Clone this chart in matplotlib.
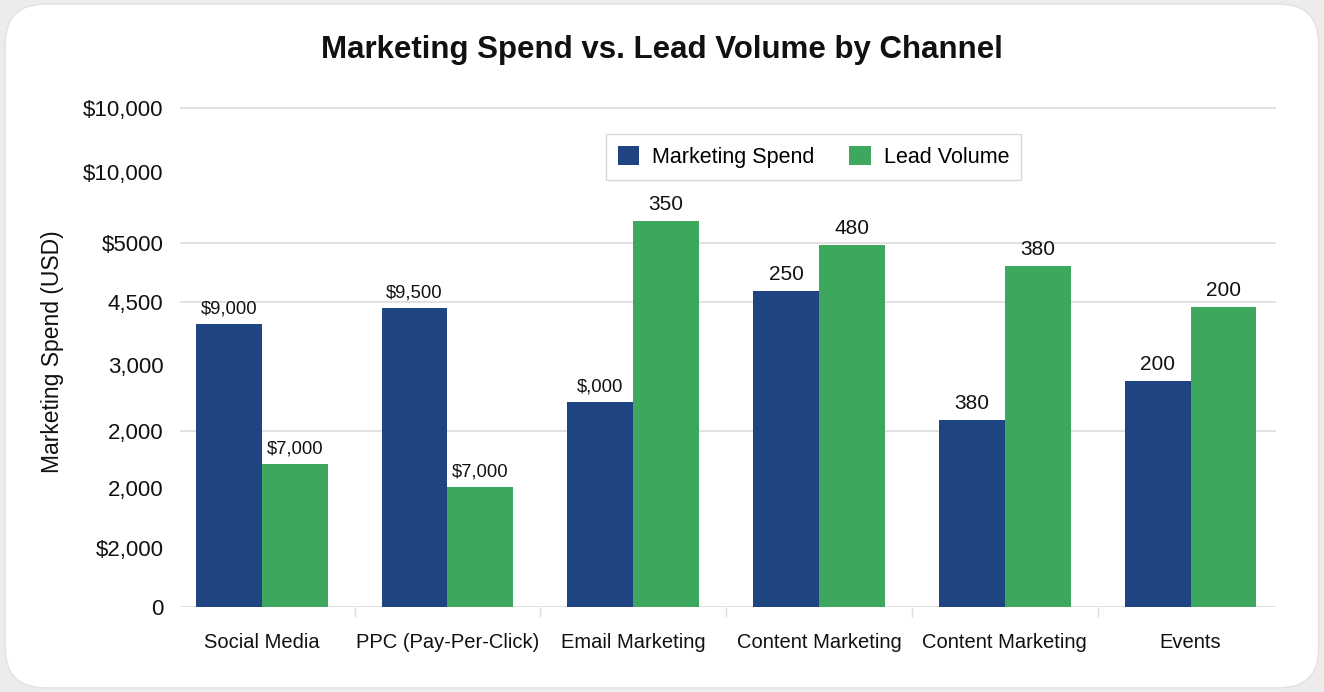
import matplotlib
matplotlib.use("Agg")
import matplotlib.pyplot as plt
from matplotlib.patches import FancyBboxPatch, Patch
import numpy as np

# ---- data (values read on the chart's own vertical scale) ----
categories = ["Social Media", "PPC (Pay-Per-Click)", "Email Marketing",
              "Content Marketing", "Content Marketing", "Events"]
spend = [283, 299, 205, 316, 187, 226]
leads = [143, 120, 386, 362, 341, 300]
spend_labels = ["$9,000", "$9,500", "$,000", "250", "380", "200"]
lead_labels = ["$7,000", "$7,000", "350", "480", "380", "200"]
ytick_values = [0, 59, 119, 176, 242, 305, 364, 435, 499]
ytick_labels = ["0", "$2,000", "2,000", "2,000", "3,000", "4,500", "$5000", "$10,000", "$10,000"]
gridline_values = [0, 176, 305, 364, 499]

BLUE = "#1f4482"
GREEN = "#3ca75d"
plt.rcParams["font.family"] = ["Liberation Sans", "DejaVu Sans"]

fig = plt.figure(figsize=(13.24, 6.92), dpi=100)
fig.patch.set_facecolor("#ececec")
card = FancyBboxPatch((0.004, 0.006), 0.992, 0.988,
                      boxstyle="round,pad=0,rounding_size=0.03",
                      transform=fig.transFigure, facecolor="white",
                      edgecolor="#e2e2e2", linewidth=1, zorder=-10,
                      mutation_aspect=1324 / 692)
fig.patches.append(card)

ax = fig.add_axes([180 / 1324, 1 - 607 / 692, (1276 - 180) / 1324, 510 / 692])
ax.set_facecolor("none")
ax.set_zorder(5)

x = np.arange(len(categories))
w = 0.355
b1 = ax.bar(x - w / 2, spend, w, color=BLUE, label="Marketing Spend", zorder=3)
b2 = ax.bar(x + w / 2, leads, w, color=GREEN, label="Lead Volume", zorder=3)

for rect, lab in zip(b1, spend_labels):
    fs = 13.3 if lab.startswith("$") else 15
    ax.annotate(lab, (rect.get_x() + rect.get_width() / 2, rect.get_height()),
                xytext=(0, 5), textcoords="offset points", ha="center", va="bottom",
                fontsize=fs, color="#111111")
for rect, lab in zip(b2, lead_labels):
    fs = 13.3 if lab.startswith("$") else 15
    ax.annotate(lab, (rect.get_x() + rect.get_width() / 2, rect.get_height()),
                xytext=(0, 5), textcoords="offset points", ha="center", va="bottom",
                fontsize=fs, color="#111111")

ax.set_xlim(-0.44, len(categories) - 1 + 0.46)
ax.set_ylim(0, 510)

for gv in gridline_values:
    ax.axhline(gv, color="#dcdcdc", linewidth=1.2, zorder=1)

ax.set_yticks(ytick_values)
ax.set_yticklabels(ytick_labels, fontsize=16, color="#111111")
ax.set_xticks(x)
ax.set_xticklabels(categories, fontsize=14.5, color="#111111")
ax.set_xticks(x[:-1] + 0.5, minor=True)
ax.tick_params(axis="y", length=0, pad=12)
ax.tick_params(axis="x", which="major", length=0, pad=19)
ax.tick_params(axis="x", which="minor", length=7, color="#dcdcdc", width=1)
for s in ax.spines.values():
    s.set_visible(False)

ax.set_ylabel("Marketing Spend (USD)", fontsize=16.5, color="#111111")
ax.yaxis.set_label_coords(-0.106, 0.5)

handles = [Patch(facecolor=BLUE), Patch(facecolor=GREEN)]
leg = ax.legend(handles, ["Marketing Spend", "Lead Volume"], loc="center",
                bbox_to_anchor=(0.578, 0.882), ncol=2, fontsize=15.5,
                frameon=True, fancybox=False, edgecolor="#cfcfcf",
                handlelength=1.0, handleheight=1.0, handletextpad=0.6,
                columnspacing=1.6, borderpad=0.55)
leg.get_frame().set_linewidth(1.0)

fig.text(0.5, 1 - 50 / 692, "Marketing Spend vs. Lead Volume by Channel",
         ha="center", va="center", fontsize=22.5, fontweight="bold", color="#111111")

fig.savefig("out.png", dpi=100, facecolor=fig.get_facecolor())
